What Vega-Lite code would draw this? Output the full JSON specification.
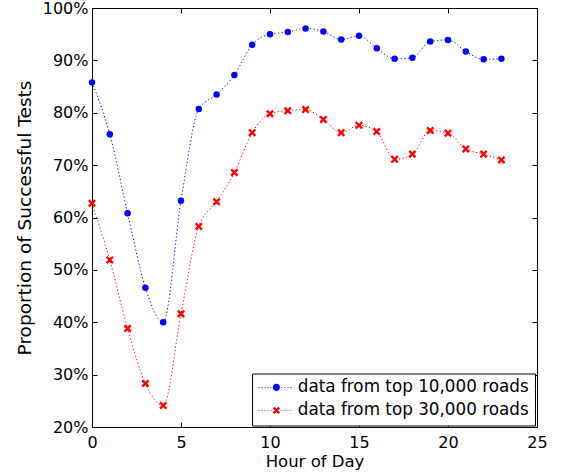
{
  "$schema": "https://vega.github.io/schema/vega-lite/v6.json",
  "width": 445,
  "height": 419,
  "autosize": "none",
  "padding": {"left": 92, "top": 8, "right": 25, "bottom": 48},
  "background": "white",
  "config": {
    "font": "DejaVu Sans",
    "view": {"stroke": null},
    "axis": {
      "labelFont": "DejaVu Sans",
      "titleFont": "DejaVu Sans",
      "labelFontSize": 16,
      "titleFontSize": 16.5,
      "titleFontWeight": "normal",
      "labelColor": "black",
      "titleColor": "black",
      "domainColor": "black",
      "tickColor": "black",
      "tickSize": -5,
      "labelFlush": false,
      "grid": false
    },
    "legend": {
      "labelFont": "DejaVu Sans",
      "labelFontSize": 16.8,
      "labelColor": "black",
      "labelLimit": 400
    }
  },
  "data": {
    "values": [
      {"hour": 0, "series": "data from top 10,000 roads", "value": 0.858},
      {"hour": 1, "series": "data from top 10,000 roads", "value": 0.759},
      {"hour": 2, "series": "data from top 10,000 roads", "value": 0.608},
      {"hour": 3, "series": "data from top 10,000 roads", "value": 0.466},
      {"hour": 4, "series": "data from top 10,000 roads", "value": 0.400},
      {"hour": 5, "series": "data from top 10,000 roads", "value": 0.632},
      {"hour": 6, "series": "data from top 10,000 roads", "value": 0.807},
      {"hour": 7, "series": "data from top 10,000 roads", "value": 0.835},
      {"hour": 8, "series": "data from top 10,000 roads", "value": 0.872},
      {"hour": 9, "series": "data from top 10,000 roads", "value": 0.930},
      {"hour": 10, "series": "data from top 10,000 roads", "value": 0.950},
      {"hour": 11, "series": "data from top 10,000 roads", "value": 0.954},
      {"hour": 12, "series": "data from top 10,000 roads", "value": 0.961},
      {"hour": 13, "series": "data from top 10,000 roads", "value": 0.955},
      {"hour": 14, "series": "data from top 10,000 roads", "value": 0.940},
      {"hour": 15, "series": "data from top 10,000 roads", "value": 0.947},
      {"hour": 16, "series": "data from top 10,000 roads", "value": 0.923},
      {"hour": 17, "series": "data from top 10,000 roads", "value": 0.903},
      {"hour": 18, "series": "data from top 10,000 roads", "value": 0.905},
      {"hour": 19, "series": "data from top 10,000 roads", "value": 0.936},
      {"hour": 20, "series": "data from top 10,000 roads", "value": 0.939},
      {"hour": 21, "series": "data from top 10,000 roads", "value": 0.917},
      {"hour": 22, "series": "data from top 10,000 roads", "value": 0.902},
      {"hour": 23, "series": "data from top 10,000 roads", "value": 0.903},
      {"hour": 0, "series": "data from top 30,000 roads", "value": 0.627},
      {"hour": 1, "series": "data from top 30,000 roads", "value": 0.519},
      {"hour": 2, "series": "data from top 30,000 roads", "value": 0.388},
      {"hour": 3, "series": "data from top 30,000 roads", "value": 0.283},
      {"hour": 4, "series": "data from top 30,000 roads", "value": 0.241},
      {"hour": 5, "series": "data from top 30,000 roads", "value": 0.416},
      {"hour": 6, "series": "data from top 30,000 roads", "value": 0.583},
      {"hour": 7, "series": "data from top 30,000 roads", "value": 0.630},
      {"hour": 8, "series": "data from top 30,000 roads", "value": 0.686},
      {"hour": 9, "series": "data from top 30,000 roads", "value": 0.762},
      {"hour": 10, "series": "data from top 30,000 roads", "value": 0.798},
      {"hour": 11, "series": "data from top 30,000 roads", "value": 0.804},
      {"hour": 12, "series": "data from top 30,000 roads", "value": 0.806},
      {"hour": 13, "series": "data from top 30,000 roads", "value": 0.787},
      {"hour": 14, "series": "data from top 30,000 roads", "value": 0.762},
      {"hour": 15, "series": "data from top 30,000 roads", "value": 0.776},
      {"hour": 16, "series": "data from top 30,000 roads", "value": 0.764},
      {"hour": 17, "series": "data from top 30,000 roads", "value": 0.711},
      {"hour": 18, "series": "data from top 30,000 roads", "value": 0.721},
      {"hour": 19, "series": "data from top 30,000 roads", "value": 0.766},
      {"hour": 20, "series": "data from top 30,000 roads", "value": 0.761},
      {"hour": 21, "series": "data from top 30,000 roads", "value": 0.731},
      {"hour": 22, "series": "data from top 30,000 roads", "value": 0.721},
      {"hour": 23, "series": "data from top 30,000 roads", "value": 0.710}
    ]
  },
  "resolve": {
    "scale": {"x": "shared", "y": "shared", "color": "shared"},
    "axis": {"x": "independent", "y": "independent"}
  },
  "layer": [
    {
      "mark": {"type": "line", "interpolate": "monotone", "strokeWidth": 1, "strokeDash": [1.2, 2.4]},
      "encoding": {
        "x": {
          "field": "hour", "type": "quantitative",
          "scale": {"domain": [0, 25], "nice": false, "zero": false},
          "axis": {"orient": "bottom", "values": [0, 5, 10, 15, 20, 25], "title": "Hour of Day", "labelPadding": 12, "titlePadding": 3}
        },
        "y": {
          "field": "value", "type": "quantitative",
          "scale": {"domain": [0.2, 1.0], "nice": false, "zero": false},
          "axis": {"orient": "left", "values": [0.2, 0.3, 0.4, 0.5, 0.6, 0.7, 0.8, 0.9, 1.0], "format": ".0%", "title": "Proportion of Successful Tests", "titleFontSize": 18.5, "labelPadding": 9, "titlePadding": 8}
        },
        "color": {
          "field": "series", "type": "nominal",
          "scale": {"domain": ["data from top 10,000 roads", "data from top 30,000 roads"], "range": ["#0000ff", "#ff0000"]},
          "legend": {
            "title": null,
            "orient": "none",
            "legendX": 160,
            "legendY": 365.5,
            "strokeColor": "black",
            "fillColor": "white",
            "padding": 5.5,
            "rowPadding": 5,
            "symbolSize": 4,
            "symbolOffset": 10.5,
            "labelOffset": 13,
            "encode": {
              "symbols": {
                "update": {
                  "shape": {"signal": "datum.index === 0 ? 'M-18,-0.4h1.2v0.8h-1.2Z M-15,-0.4h1.2v0.8h-1.2Z M-12,-0.4h1.2v0.8h-1.2Z M-9,-0.4h1.2v0.8h-1.2Z M-6,-0.4h1.2v0.8h-1.2Z M5,-0.4h1.2v0.8h-1.2Z M8,-0.4h1.2v0.8h-1.2Z M11,-0.4h1.2v0.8h-1.2Z M14,-0.4h1.2v0.8h-1.2Z M-3.6,0 A3.6,3.6 0 1,1 3.6,0 A3.6,3.6 0 1,1 -3.6,0 Z' : 'M-18,-0.4h1.2v0.8h-1.2Z M-15,-0.4h1.2v0.8h-1.2Z M-12,-0.4h1.2v0.8h-1.2Z M-9,-0.4h1.2v0.8h-1.2Z M-6,-0.4h1.2v0.8h-1.2Z M5,-0.4h1.2v0.8h-1.2Z M8,-0.4h1.2v0.8h-1.2Z M11,-0.4h1.2v0.8h-1.2Z M14,-0.4h1.2v0.8h-1.2Z M-1.95,-3.65L3.65,1.95L1.95,3.65L-3.65,-1.95Z M1.95,-3.65L3.65,-1.95L-1.95,3.65L-3.65,1.95Z'"},
                  "fill": {"scale": "color", "field": "value"},
                  "fillOpacity": {"value": 1},
                  "stroke": {"value": "transparent"},
                  "strokeWidth": {"value": 0},
                  "opacity": {"value": 1}
                }
              }
            }
          }
        }
      }
    },
    {
      "transform": [{"filter": "datum.series === 'data from top 10,000 roads'"}],
      "mark": {"type": "point", "shape": "circle", "filled": true, "size": 42, "opacity": 1, "color": "#0000ff"},
      "encoding": {
        "x": {"field": "hour", "type": "quantitative", "axis": {"orient": "top", "values": [0, 5, 10, 15, 20, 25], "labels": false, "title": null}},
        "y": {"field": "value", "type": "quantitative", "axis": {"orient": "right", "values": [0.2, 0.3, 0.4, 0.5, 0.6, 0.7, 0.8, 0.9, 1.0], "labels": false, "title": null}}
      }
    },
    {
      "transform": [{"filter": "datum.series === 'data from top 30,000 roads'"}],
      "mark": {"type": "point", "shape": "M-1,-1L1,1M-1,1L1,-1", "filled": false, "size": 40, "strokeWidth": 2.4, "opacity": 1, "color": "#ff0000"},
      "encoding": {
        "x": {"field": "hour", "type": "quantitative", "axis": null},
        "y": {"field": "value", "type": "quantitative", "axis": null}
      }
    }
  ]
}
